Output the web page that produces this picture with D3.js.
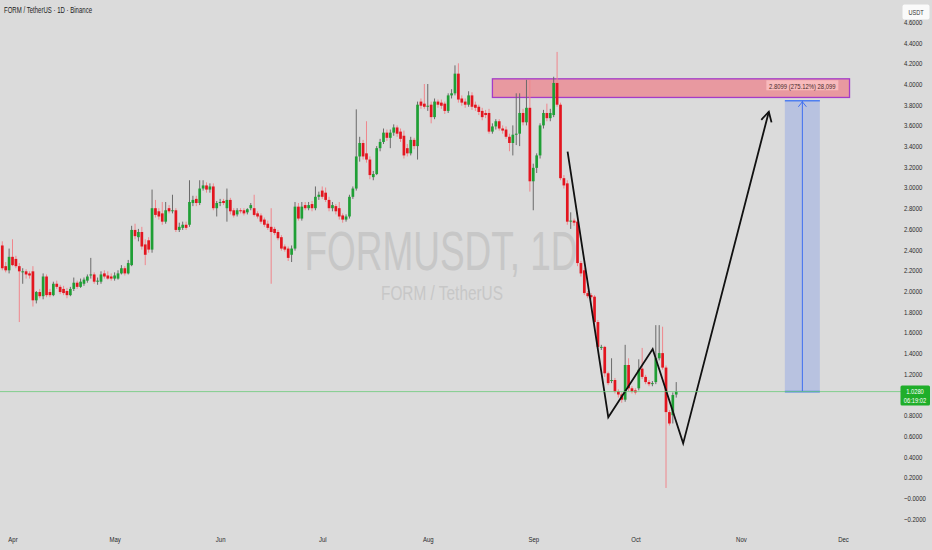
<!DOCTYPE html>
<html><head><meta charset="utf-8">
<script src="https://cdn.jsdelivr.net/npm/d3@7"></script>
<style>
html,body{margin:0;padding:0;background:#dbdbdb;}
svg{display:block;}
text{font-family:"Liberation Sans",Arial,sans-serif;}
</style></head><body>
<svg id="c" width="932" height="550"></svg>
<script>
// ---------- data ----------
const firstDay = "2025-03-29";
const opens = [2.44,2.24,2.20,2.33,2.31,2.24,2.19,2.19,2.17,2.19,1.91,1.99,1.95,2.14,1.99,1.96,2.07,2.04,2.02,2.00,
1.96,2.02,2.08,2.04,2.07,2.10,2.15,2.16,2.09,2.09,2.17,2.15,2.14,2.12,2.12,2.17,2.22,2.17,2.25,2.59,
2.52,2.57,2.45,2.49,2.40,2.80,2.77,2.75,2.67,2.80,2.78,2.78,2.59,2.61,2.64,2.64,2.85,2.89,2.85,2.99,
3.02,2.98,3.01,2.80,2.85,2.87,2.80,2.88,2.78,2.74,2.78,2.78,2.76,2.80,2.80,2.75,2.73,2.69,2.65,2.62,
2.60,2.57,2.52,2.43,2.41,2.35,2.41,2.815,2.70,2.83,2.80,2.84,2.80,2.91,2.97,2.95,2.88,2.80,2.82,2.80,
2.73,2.69,2.72,2.91,2.99,3.30,3.43,3.33,3.27,3.10,3.13,3.38,3.44,3.53,3.48,3.53,3.58,3.54,3.50,3.38,
3.33,3.46,3.40,3.83,3.81,3.79,3.80,3.68,3.83,3.82,3.81,3.74,3.89,3.91,4.10,3.86,3.83,3.80,3.89,3.80,
3.78,3.74,3.72,3.72,3.54,3.59,3.64,3.57,3.56,3.49,3.43,3.51,3.52,3.72,3.63,3.77,3.06,3.19,3.31,3.60,
3.72,3.67,3.70,4.01,3.80,3.09,3.04,2.68,2.68,2.67,2.27,2.20,1.98,1.96,1.945,1.70,1.46,1.46,1.205,1.13,
1.14,1.03,1.00,0.95,1.285,1.06,1.04,1.06,1.25,1.17,1.12,1.11,1.12,1.35,1.40,1.26,0.83,0.80,1.00];
const highs = [2.48,2.28,2.41,2.50,2.34,2.27,2.22,2.21,2.19,2.24,2.00,2.02,2.17,2.16,2.02,2.09,2.10,2.06,2.05,2.03,
2.04,2.13,2.10,2.12,2.13,2.16,2.32,2.18,2.13,2.19,2.20,2.19,2.17,2.18,2.20,2.25,2.24,2.30,2.63,2.65,
2.60,2.62,2.50,2.52,2.98,2.88,2.80,2.86,2.86,2.83,2.93,2.80,2.66,2.67,2.67,3.07,2.92,2.92,3.07,3.07,
3.05,3.04,3.04,2.87,2.89,2.89,2.99,2.90,2.80,2.80,2.80,2.80,2.80,2.85,2.93,2.77,2.75,2.71,2.68,2.80,
2.62,2.59,2.54,2.45,2.43,2.44,2.86,2.85,2.86,2.86,2.86,2.87,3.01,2.96,3.01,3.00,2.91,2.86,2.84,2.86,
2.75,2.74,2.93,3.01,3.755,3.49,3.46,3.64,3.30,3.16,3.40,3.47,3.57,3.56,3.56,3.61,3.60,3.57,3.55,3.42,
3.49,3.48,3.83,3.86,4.00,4.00,3.83,3.86,3.85,3.85,3.83,3.91,3.95,4.18,4.20,3.89,3.86,3.93,3.92,3.83,
3.80,3.77,3.75,3.76,3.62,3.66,3.66,3.60,3.59,3.52,3.60,3.91,3.91,3.76,4.04,4.04,3.23,3.33,3.62,3.75,
3.81,3.76,4.07,4.31,3.82,3.12,3.07,2.76,2.70,2.69,2.29,2.22,2.00,1.98,1.96,1.72,1.48,1.47,1.22,1.35,
1.16,1.05,1.02,1.48,1.35,1.08,1.06,1.34,1.45,1.19,1.14,1.13,1.67,1.67,1.655,1.28,0.85,1.02,1.12];
const lows = [2.20,2.18,2.17,2.24,2.22,1.70,2.07,2.12,2.12,1.85,1.88,1.93,1.92,1.94,1.94,1.95,2.02,1.97,1.96,1.93,
1.95,2.00,2.02,2.03,2.05,2.08,2.12,2.07,2.06,2.07,2.12,2.11,2.10,2.10,2.11,2.16,2.15,2.16,2.24,2.50,
2.48,2.40,2.25,2.37,2.37,2.71,2.69,2.64,2.65,2.75,2.75,2.57,2.57,2.59,2.59,2.62,2.82,2.82,2.83,2.97,
2.95,2.95,2.78,2.72,2.82,2.83,2.67,2.74,2.71,2.72,2.75,2.73,2.74,2.78,2.72,2.70,2.65,2.62,2.59,2.07,
2.54,2.49,2.39,2.38,2.29,2.28,2.39,2.68,2.68,2.78,2.78,2.77,2.78,2.88,2.89,2.86,2.77,2.77,2.74,2.69,
2.66,2.67,2.70,2.89,2.97,3.25,3.27,3.24,3.08,3.07,3.12,3.35,3.42,3.45,3.38,3.50,3.49,3.44,3.28,3.30,
3.31,3.37,3.27,3.76,3.76,3.74,3.62,3.66,3.77,3.76,3.71,3.72,3.86,3.89,3.82,3.79,3.77,3.78,3.75,3.74,
3.70,3.65,3.67,3.52,3.52,3.56,3.55,3.52,3.47,3.35,3.31,3.41,3.40,3.60,3.60,2.96,2.78,3.14,3.28,3.57,
3.64,3.64,3.68,3.78,3.07,2.99,2.64,2.60,2.63,2.24,2.14,1.96,1.93,1.92,1.68,1.44,1.43,1.17,1.09,1.11,
1.01,0.97,0.92,0.93,1.03,1.01,1.00,1.04,1.15,1.10,1.08,1.08,1.10,1.33,1.24,0.097,0.70,0.72,0.97];
const closes = [2.22,2.20,2.33,2.25,2.24,2.19,2.19,2.16,2.15,1.91,1.99,1.95,2.14,1.96,1.96,2.07,2.04,1.99,1.98,1.96,
2.02,2.08,2.04,2.09,2.11,2.14,2.16,2.09,2.10,2.16,2.14,2.12,2.12,2.15,2.17,2.22,2.17,2.27,2.59,2.53,
2.57,2.43,2.35,2.40,2.80,2.735,2.72,2.67,2.78,2.77,2.78,2.59,2.62,2.64,2.61,2.86,2.88,2.85,2.99,3.02,
2.98,3.01,2.80,2.85,2.86,2.85,2.88,2.77,2.73,2.78,2.77,2.75,2.79,2.83,2.735,2.72,2.67,2.64,2.61,2.57,
2.56,2.51,2.41,2.40,2.32,2.41,2.815,2.70,2.815,2.80,2.83,2.80,2.91,2.93,2.91,2.88,2.80,2.83,2.77,2.72,
2.69,2.72,2.91,2.99,3.30,3.43,3.30,3.27,3.12,3.13,3.38,3.44,3.53,3.48,3.53,3.58,3.52,3.47,3.31,3.33,
3.46,3.40,3.80,3.79,3.78,3.79,3.68,3.83,3.80,3.79,3.74,3.89,3.91,4.10,3.85,3.82,3.80,3.89,3.78,3.77,
3.73,3.68,3.70,3.54,3.59,3.64,3.57,3.55,3.49,3.43,3.51,3.52,3.72,3.63,3.77,3.06,3.19,3.31,3.60,3.72,
3.67,3.72,4.01,3.80,3.09,3.02,2.67,2.68,2.66,2.27,2.17,1.98,1.95,1.94,1.70,1.46,1.46,1.205,1.11,1.14,
1.03,1.00,0.95,1.285,1.06,1.03,1.02,1.24,1.17,1.12,1.10,1.11,1.35,1.40,1.26,0.83,0.72,0.995,1.028];

const monthTicks = ["2025-04-01","2025-05-01","2025-06-01","2025-07-01","2025-08-01","2025-09-01","2025-10-01","2025-11-01","2025-12-01"];
const monthLabels = ["Apr","May","Jun","Jul","Aug","Sep","Oct","Nov","Dec"];
const priceTicks = [-0.2,0,0.2,0.4,0.6,0.8,1.2,1.4,1.6,1.8,2.0,2.2,2.4,2.6,2.8,3.0,3.2,3.4,3.6,3.8,4.0,4.2,4.4,4.6];
const priceTickLabels = ["\u22120.2000","\u22120.0000","0.2000","0.4000","0.6000","0.8000","1.2000","1.4000","1.6000","1.8000","2.0000","2.2000","2.4000","2.6000","2.8000","3.0000","3.2000","3.4000","3.6000","3.8000","4.0000","4.2000","4.4000","4.6000"];
const lastPrice = 1.028;
const lastPriceLabel = "1.0280";
const countdownLabel = "06:19:02";
const zoneDates = ["2025-08-20T00:00","2025-12-02T22:00"];
const zonePrices = [4.05, 3.87];
const targetDates = ["2025-11-13T22:00","2025-11-24T05:00"];
const targetPrices = [1.028, 3.8379];
const targetLabel = "2.8099 (275.12%) 28,099";
const pathDates = ["2025-09-11T02:00","2025-09-23T01:00","2025-10-06T02:00","2025-10-15T01:00","2025-11-09T05:00"];
const pathPrices = [3.346, 0.780, 1.440, 0.528, 3.732];
const titleText = "FORM / TetherUS \u00b7 1D \u00b7 Binance";
const watermark1 = "FORMUSDT, 1D";
const watermark2 = "FORM / TetherUS";
const currencyLabel = "USDT";

// ---------- setup ----------
const W = 932, H = 550, plotR = 882, plotB = 528;
const pDay = d3.timeParse("%Y-%m-%d");
const pDT = d3.timeParse("%Y-%m-%dT%H:%M");
const start = pDay(firstDay);
const dates = d3.timeDay.range(start, d3.timeDay.offset(start, closes.length));
const candles = dates.map((d,i)=>({d, o:opens[i], h:highs[i], l:lows[i], c:closes[i]}));

const x = d3.scaleTime().domain([pDay("2025-04-01"), pDay("2025-12-01")]).range([12.5, 843]);
const y = d3.scaleLinear().domain([0, 4]).range([498, 84]);

const svg = d3.select("#c");
svg.append("rect").attr("width",W).attr("height",H).attr("fill","#dbdbdb");

function squeeze(sel, f){ sel.each(function(){ const w=this.getComputedTextLength(); this.setAttribute("textLength", w*f); this.setAttribute("lengthAdjust","spacingAndGlyphs"); }); }
function fitTo(sel, w){ sel.attr("textLength", w).attr("lengthAdjust","spacingAndGlyphs"); }

// watermark
const wm = svg.append("g").attr("fill","#c7c7c7").attr("text-anchor","middle");
wm.append("text").attr("x",441).attr("y",270).attr("font-size",56).text(watermark1).call(fitTo,273);
wm.append("text").attr("x",442).attr("y",300).attr("font-size",21).text(watermark2).call(fitTo,122);

svg.append("clipPath").attr("id","pc").append("rect").attr("x",0).attr("y",0).attr("width",plotR).attr("height",plotB);
const plot = svg.append("g").attr("clip-path","url(#pc)");

// last price line
svg.append("line").attr("x1",0).attr("x2",901).attr("y1",y(lastPrice)).attr("y2",y(lastPrice))
  .attr("stroke","#6cc97a").attr("stroke-width",0.8);

// resistance zone
plot.append("rect")
  .attr("x", x(pDT(zoneDates[0]))).attr("width", x(pDT(zoneDates[1]))-x(pDT(zoneDates[0])))
  .attr("y", y(zonePrices[0])).attr("height", y(zonePrices[1])-y(zonePrices[0]))
  .attr("fill","rgba(242,105,118,0.58)").attr("stroke","#a43cc8").attr("stroke-width",1.3);

// target range
const tx0 = x(pDT(targetDates[0])), tx1 = x(pDT(targetDates[1])), txm=(tx0+tx1)/2;
const ty0 = y(targetPrices[0]), ty1 = y(targetPrices[1]);
plot.append("rect").attr("x",tx0).attr("width",tx1-tx0).attr("y",ty1).attr("height",ty0-ty1)
  .attr("fill","rgba(120,150,235,0.35)");
plot.append("line").attr("x1",tx0).attr("x2",tx1).attr("y1",ty1).attr("y2",ty1).attr("stroke","#4f7ff0").attr("stroke-width",1.6);
plot.append("line").attr("x1",tx0).attr("x2",tx1).attr("y1",ty0).attr("y2",ty0).attr("stroke","#4f7ff0").attr("stroke-width",1.6);
plot.append("line").attr("x1",txm).attr("x2",txm).attr("y1",ty0).attr("y2",ty1).attr("stroke","#3f6ff0").attr("stroke-width",1);
plot.append("path").attr("d",`M${txm-4},${ty1+6}L${txm},${ty1+1}L${txm+4},${ty1+6}`).attr("fill","none").attr("stroke","#3f6ff0").attr("stroke-width",1);
// label
const lg = plot.append("g");
const lt = lg.append("text").attr("x",txm).attr("y",ty1-12).attr("text-anchor","middle").attr("font-size",7.2).attr("fill","#4a2a2a").text(targetLabel);
squeeze(lt,0.82);
lg.insert("rect","text").attr("x",txm-36).attr("width",72).attr("y",ty1-20.5).attr("height",10).attr("fill","rgba(255,200,200,0.7)");

// candles
const bw = 2.7;
const up = "#1f9f35", dn = "#e3151f";
const cg = plot.append("g");
cg.selectAll("line").data(candles).join("line")
  .attr("x1",d=>x(d.d)).attr("x2",d=>x(d.d)).attr("y1",d=>y(d.h)).attr("y2",d=>y(d.l))
  .attr("stroke",d=>d.c>=d.o?"#6a6a6a":"#f0868c").attr("stroke-width",1);
cg.selectAll("rect").data(candles).join("rect")
  .attr("x",d=>x(d.d)-bw/2).attr("width",bw)
  .attr("y",d=>y(Math.max(d.o,d.c))).attr("height",d=>Math.max(1,Math.abs(y(d.o)-y(d.c))))
  .attr("fill",d=>d.c>=d.o?up:dn);

// projected path
const pts = pathDates.map((d,i)=>[x(pDT(d)), y(pathPrices[i])]);
plot.append("path").attr("d",d3.line()(pts)).attr("fill","none").attr("stroke","#111").attr("stroke-width",1.8).attr("stroke-linejoin","miter");
const a = pts[pts.length-1], b = pts[pts.length-2];
const ang = Math.atan2(a[1]-b[1], a[0]-b[0]);
const L = 11, spread = 0.5;
const w1 = [a[0]-L*Math.cos(ang-spread), a[1]-L*Math.sin(ang-spread)];
const w2 = [a[0]-L*Math.cos(ang+spread), a[1]-L*Math.sin(ang+spread)];
plot.append("path").attr("d",`M${w1}L${a}L${w2}`).attr("fill","none").attr("stroke","#111").attr("stroke-width",1.8);

// y axis
const ya = svg.append("g").attr("transform",`translate(904,0)`)
  .call(d3.axisRight(y).tickValues(priceTicks).tickSize(0).tickPadding(0).tickFormat((d,i)=>priceTickLabels[i]));
ya.select(".domain").remove();
ya.selectAll("text").attr("font-size",7.5).attr("fill","#2a2a2a").attr("font-family","Liberation Sans, Arial, sans-serif").attr("text-anchor","start").call(squeeze,0.8);

// x axis
const xa = svg.append("g").attr("transform",`translate(0,537)`)
  .call(d3.axisBottom(x).tickValues(monthTicks.map(pDay)).tickSize(0).tickPadding(0).tickFormat((d,i)=>monthLabels[i]));
xa.select(".domain").remove();
xa.selectAll("text").attr("font-size",7.5).attr("fill","#2a2a2a").attr("font-family","Liberation Sans, Arial, sans-serif").call(squeeze,0.8);

// last price tag
svg.append("rect").attr("x",900.5).attr("y",y(lastPrice)-6).attr("width",29.5).attr("height",20).attr("rx",1.5).attr("fill","#1fae2a");
svg.append("text").attr("x",915).attr("y",y(lastPrice)+2.5).attr("text-anchor","middle").attr("font-size",7.2).attr("fill","#fff").text(lastPriceLabel).call(squeeze,0.8);
svg.append("text").attr("x",915).attr("y",y(lastPrice)+11.5).attr("text-anchor","middle").attr("font-size",7.2).attr("fill","#fff").text(countdownLabel).call(squeeze,0.8);

// currency box
svg.append("rect").attr("x",902.5).attr("y",4.5).attr("width",27).attr("height",15).attr("rx",2).attr("fill","#fafafa");
svg.append("text").attr("x",916).attr("y",14.5).attr("text-anchor","middle").attr("font-size",7).attr("fill","#333").text(currencyLabel).call(squeeze,0.8);

// title
svg.append("text").attr("x",4).attr("y",12.5).attr("font-size",8.6).attr("fill","#1c1c1c").text(titleText).call(fitTo,88);
</script>
</body></html>
